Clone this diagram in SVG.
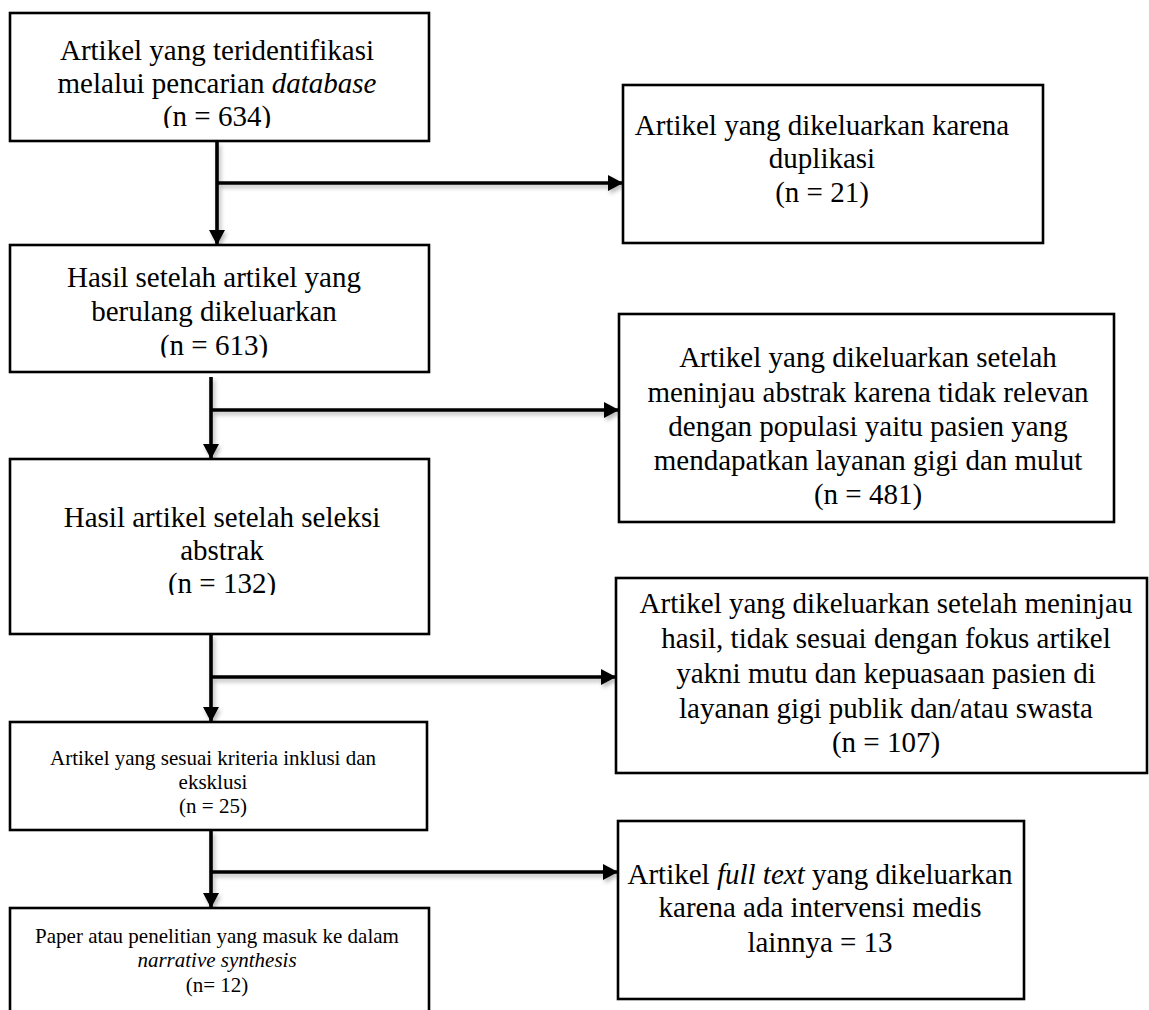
<svg xmlns="http://www.w3.org/2000/svg" width="1149" height="1010" viewBox="0 0 1149 1010">
<style>
.box{fill:#fff;stroke:#000;stroke-width:2.6}
.t{font-family:"Liberation Serif","Times New Roman",serif;font-size:29px;fill:#000;text-anchor:middle}
.s{font-family:"Liberation Serif","Times New Roman",serif;font-size:21px;fill:#000;text-anchor:middle}
.it{font-style:italic}
.ln{stroke:#000;stroke-width:3.6;fill:none}
</style>
<defs>
<filter id="sh" x="-20%" y="-50%" width="140%" height="200%">
<feDropShadow dx="2" dy="3" stdDeviation="2" flood-color="#000" flood-opacity="0.28"/>
</filter>
<marker id="ah" viewBox="0 0 10 10" refX="10" refY="5" markerWidth="15" markerHeight="16" markerUnits="userSpaceOnUse" orient="auto" preserveAspectRatio="none">
<path d="M0,0 L10,5 L0,10 Z" fill="#000"/>
</marker>
<clipPath id="c1"><rect x="0" y="0" width="440" height="128"/></clipPath>
<clipPath id="c3"><rect x="0" y="240" width="440" height="117.5"/></clipPath>
<clipPath id="c5"><rect x="0" y="450" width="440" height="145"/></clipPath>
</defs>

<g id="connectors" filter="url(#sh)">
<line class="ln" x1="217" y1="142" x2="217" y2="245" marker-end="url(#ah)"/>
<line class="ln" x1="217" y1="183" x2="623" y2="183" marker-end="url(#ah)"/>
<line class="ln" x1="211" y1="377" x2="211" y2="459" marker-end="url(#ah)"/>
<line class="ln" x1="211" y1="410" x2="619" y2="410" marker-end="url(#ah)"/>
<line class="ln" x1="211" y1="635" x2="211" y2="722" marker-end="url(#ah)"/>
<line class="ln" x1="211" y1="677" x2="616" y2="677" marker-end="url(#ah)"/>
<line class="ln" x1="211" y1="831" x2="211" y2="908" marker-end="url(#ah)"/>
<line class="ln" x1="211" y1="872" x2="618" y2="872" marker-end="url(#ah)"/>
</g>

<g id="n1">
<rect class="box" x="10" y="13" width="419" height="128"/>
<text class="t" x="217" y="60">Artikel yang teridentifikasi</text>
<text class="t" x="217" y="93">melalui pencarian <tspan class="it">database</tspan></text>
<text class="t" x="217" y="126" clip-path="url(#c1)">(n = 634)</text>
</g>

<g id="n2">
<rect class="box" x="623" y="85" width="420" height="158"/>
<text class="t" x="822" y="135">Artikel yang dikeluarkan karena</text>
<text class="t" x="822" y="168">duplikasi</text>
<text class="t" x="822" y="202">(n = 21)</text>
</g>

<g id="n3">
<rect class="box" x="10" y="245" width="419" height="127"/>
<text class="t" x="214" y="287">Hasil setelah artikel yang</text>
<text class="t" x="214" y="321">berulang dikeluarkan</text>
<text class="t" x="214" y="355" clip-path="url(#c3)">(n = 613)</text>
</g>

<g id="n4">
<rect class="box" x="619" y="314" width="495" height="208"/>
<text class="t" x="868" y="367">Artikel yang dikeluarkan setelah</text>
<text class="t" x="868" y="402">meninjau abstrak karena tidak relevan</text>
<text class="t" x="868" y="436">dengan populasi yaitu pasien yang</text>
<text class="t" x="868" y="470">mendapatkan layanan gigi dan mulut</text>
<text class="t" x="868" y="504">(n = 481)</text>
</g>

<g id="n5">
<rect class="box" x="10" y="459" width="419" height="175"/>
<text class="t" x="222" y="527">Hasil artikel setelah seleksi</text>
<text class="t" x="222" y="560">abstrak</text>
<text class="t" x="222" y="593" clip-path="url(#c5)">(n = 132)</text>
</g>

<g id="n6">
<rect class="box" x="616" y="578" width="531" height="195"/>
<text class="t" x="886" y="613">Artikel yang dikeluarkan setelah meninjau</text>
<text class="t" x="886" y="648">hasil, tidak sesuai dengan fokus artikel</text>
<text class="t" x="886" y="683">yakni mutu dan kepuasaan pasien di</text>
<text class="t" x="886" y="718">layanan gigi publik dan/atau swasta</text>
<text class="t" x="886" y="752">(n = 107)</text>
</g>

<g id="n7">
<rect class="box" x="10" y="722" width="417" height="108"/>
<text class="s" x="213" y="765">Artikel yang sesuai kriteria inklusi dan</text>
<text class="s" x="213" y="789">eksklusi</text>
<text class="s" x="213" y="813">(n = 25)</text>
</g>

<g id="n8">
<rect class="box" x="618" y="821" width="406" height="178"/>
<text class="t" x="820" y="884">Artikel <tspan class="it">full text</tspan> yang dikeluarkan</text>
<text class="t" x="820" y="917">karena ada intervensi medis</text>
<text class="t" x="820" y="952">lainnya = 13</text>
</g>

<g id="n9">
<rect class="box" x="10" y="908" width="419" height="120"/>
<text class="s" x="217" y="943">Paper atau penelitian yang masuk ke dalam</text>
<text class="s it" x="217" y="967">narrative synthesis</text>
<text class="s" x="217" y="992">(n= 12)</text>
</g>
</svg>
